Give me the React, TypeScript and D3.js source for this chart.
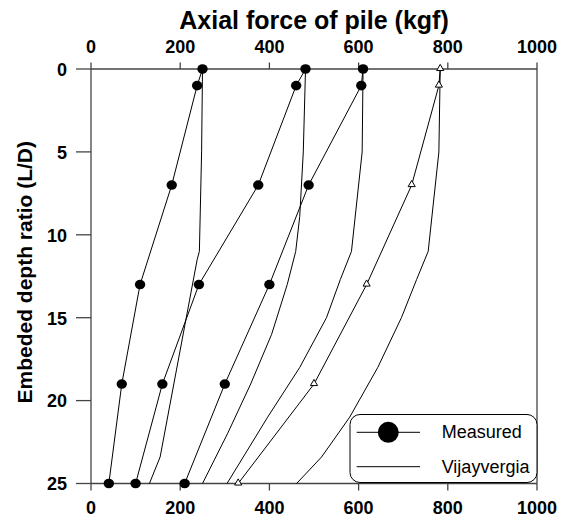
import React from "react";
import * as d3 from "d3";

const depths = [0, 1, 7, 13, 19, 25];
const measured1 = [250, 238, 181, 110, 69, 40];
const measured2 = [481, 460, 375, 242, 160, 100];
const measured3 = [610, 606, 488, 400, 300, 210];
const measuredTri = [783, 780, 719, 618, 500, 330];

const vijA_d = [0, 5, 11, 11.5, 23.4, 25];
const vijA_v = [250, 248, 243, 238, 155, 131];
const vijB_d = [0, 5, 8.9, 11, 13, 16, 19, 22, 25];
const vijB_v = [481, 476, 468, 459, 440, 405, 358, 306, 250];
const vijC_d = [0, 5, 11, 12.7, 15, 18, 21, 25];
const vijC_v = [610, 608, 584, 559, 528, 468, 396, 305];
const vijD_d = [0, 5, 11, 12.7, 15, 18, 21, 23.4, 25];
const vijD_v = [783, 780, 756, 730, 696, 643, 580, 517, 461];

const xTicks = [0, 200, 400, 600, 800, 1000];
const yTicks = [0, 5, 10, 15, 20, 25];

const FONT = "Liberation Sans, Arial, Helvetica, sans-serif";

export default function App() {
  const left = 91, right = 537, top = 69, bottom = 483.5;
  const x = d3.scaleLinear().domain([0, 1000]).range([left, right]);
  const y = d3.scaleLinear().domain([0, 25]).range([top, bottom]);
  const line = d3
    .line<[number, number]>()
    .x((p) => x(p[0]))
    .y((p) => y(p[1]));

  const measuredSeries = [measured1, measured2, measured3];
  const vij = [
    [vijA_d, vijA_v],
    [vijB_d, vijB_v],
    [vijC_d, vijC_v],
    [vijD_d, vijD_v],
  ];
  const axisColor = "#444";
  const tri = d3.symbol().type(d3.symbolTriangle).size(22);

  return (
    <svg
      width={570}
      height={522}
      style={{ position: "absolute", left: 0, top: 0, background: "#fff" }}
      fontFamily={FONT}
    >
      <rect width={570} height={522} fill="#fff" />
      <text x={(left + right) / 2} y={29} textAnchor="middle" fontSize={25} fontWeight="bold">
        Axial force of pile (kgf)
      </text>
      <text
        transform={`translate(31.5, ${(top + bottom) / 2 - 4}) rotate(-90)`}
        textAnchor="middle"
        fontSize={21}
        fontWeight="bold"
      >
        Embeded depth ratio (L/D)
      </text>

      <g stroke={axisColor} strokeWidth={1.3} fill="none">
        <line x1={left} x2={right} y1={top} y2={top} />
        <line x1={left} x2={right} y1={bottom} y2={bottom} />
        <line x1={left} x2={left} y1={top} y2={bottom} />
        <line x1={right} x2={right} y1={top} y2={bottom} />
        {xTicks.map((t) => (
          <line key={"tt" + t} x1={x(t)} x2={x(t)} y1={top} y2={top - 6.5} />
        ))}
        {xTicks.map((t) => (
          <line key={"bt" + t} x1={x(t)} x2={x(t)} y1={bottom} y2={bottom + 7} />
        ))}
        {yTicks.map((t) => (
          <line key={"lt" + t} x1={left} x2={left - 15} y1={y(t)} y2={y(t)} />
        ))}
      </g>
      <g fontSize={18} fontWeight="bold" textAnchor="middle">
        {xTicks.map((t) => (
          <text key={"tl" + t} x={x(t)} y={52.7}>
            {t}
          </text>
        ))}
        {xTicks.map((t) => (
          <text key={"bl" + t} x={x(t)} y={514}>
            {t}
          </text>
        ))}
      </g>
      <g fontSize={18} fontWeight="bold" textAnchor="end">
        {yTicks.map((t) => (
          <text key={"yl" + t} x={67} y={y(t) + 6.8}>
            {t}
          </text>
        ))}
      </g>

      <g fill="none" stroke="#000" strokeWidth={1}>
        {vij.map(([ds, vs], i) => (
          <path key={"v" + i} d={line(ds.map((d, j) => [vs[j], d] as [number, number])) || ""} />
        ))}
      </g>

      <g fill="none" stroke="#000" strokeWidth={1}>
        {measuredSeries.map((vs, i) => (
          <path key={"m" + i} d={line(vs.map((v, j) => [v, depths[j]] as [number, number])) || ""} />
        ))}
        <path d={line(measuredTri.map((v, j) => [v, depths[j]] as [number, number])) || ""} />
      </g>
      <g fill="#000">
        {measuredSeries.map((vs, i) =>
          vs.map((v, j) => <ellipse key={`c${i}-${j}`} cx={x(v)} cy={y(depths[j])} rx={5.2} ry={4.8} />)
        )}
      </g>
      <g fill="#fff" stroke="#000" strokeWidth={1}>
        {measuredTri.map((v, j) => (
          <path key={"t" + j} d={tri() || ""} transform={`translate(${x(v)},${y(depths[j]) - 0.5})`} />
        ))}
      </g>

      <g>
        <rect x={350} y={414.5} width={187} height={68} rx={10} ry={10} fill="#fff" stroke="#000" strokeWidth={1} />
        <line x1={356.7} x2={420} y1={432.3} y2={432.3} stroke="#000" strokeWidth={1} />
        <circle cx={388.3} cy={432.3} r={10.5} fill="#000" />
        <text x={441.7} y={437.8} fontSize={18}>
          Measured
        </text>
        <line x1={356.7} x2={420} y1={466.7} y2={466.7} stroke="#000" strokeWidth={1} />
        <text x={441.7} y={472.7} fontSize={18}>
          Vijayvergia
        </text>
      </g>
    </svg>
  );
}
